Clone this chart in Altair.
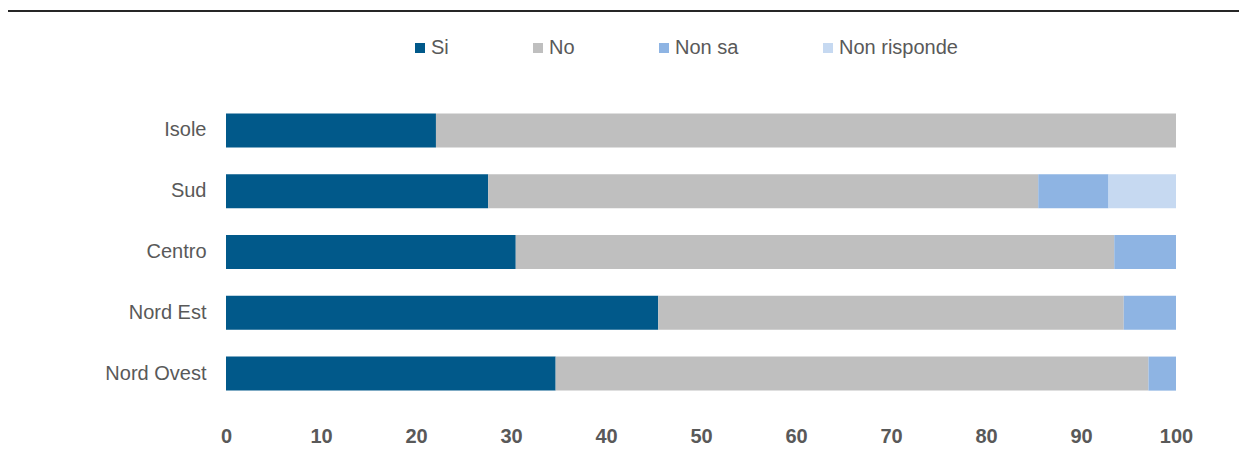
import altair as alt
import pandas as pd

regions = ["Isole", "Sud", "Centro", "Nord Est", "Nord Ovest"]
answers = ["Si", "No", "Non sa", "Non risponde"]
si = [22.1, 27.6, 30.5, 45.5, 34.7]
no = [77.9, 57.9, 63.0, 49.0, 62.4]
non_sa = [0.0, 7.4, 6.5, 5.5, 2.9]
non_risponde = [0.0, 7.1, 0.0, 0.0, 0.0]
colors = ["#01598A", "#BFBFBF", "#8EB4E3", "#C6D9F1"]
x_ticks = [0, 10, 20, 30, 40, 50, 60, 70, 80, 90, 100]

rows = []
for series_name, vals in zip(answers, [si, no, non_sa, non_risponde]):
    for r, v in zip(regions, vals):
        rows.append({"region": r, "answer": series_name, "value": v,
                     "order": answers.index(series_name)})
df = pd.DataFrame(rows)

FONT = "Liberation Sans, Arial, sans-serif"

bars = alt.Chart(df).mark_bar().encode(
    x=alt.X("value:Q", stack="zero",
            scale=alt.Scale(domain=[0, 100], nice=False),
            axis=alt.Axis(values=x_ticks, title=None, domain=False, ticks=False,
                          grid=False, labelFont=FONT, labelFontSize=20,
                          labelFontWeight="bold", labelColor="#595959",
                          labelPadding=22, labelFlush=False)),
    y=alt.Y("region:N", sort=regions,
            scale=alt.Scale(paddingInner=0.44, paddingOuter=0.22),
            axis=alt.Axis(title=None, domain=False, ticks=False, grid=False,
                          labelFont=FONT, labelFontSize=20, labelColor="#595959",
                          labelPadding=20)),
    color=alt.Color("answer:N", sort=answers,
                    scale=alt.Scale(domain=answers, range=colors),
                    legend=alt.Legend(title=None, orient="none", direction="horizontal",
                                      legendX=184, legendY=-62, padding=0,
                                      symbolType="square", symbolSize=100,
                                      symbolStrokeWidth=0, labelOffset=1,
                                      columnPadding=79, labelFont=FONT,
                                      labelFontSize=20, labelColor="#595959")),
    order=alt.Order("order:Q", sort="ascending"),
)

top_rule = alt.Chart(alt.Data(values=[{"k": 1}])).mark_rule(
    color="#262626", strokeWidth=2
).encode(x=alt.value(-226), x2=alt.value(1025), y=alt.value(-89))

chart = alt.layer(bars, top_rule).properties(
    width=950, height=304,
    background="white",
    autosize=alt.AutoSizeParams(type="none"),
    padding={"left": 218, "top": 92, "right": 63, "bottom": 60},
).configure_view(strokeWidth=0, stroke="transparent")

chart.save("out.html", embed_options={"renderer": "svg", "actions": False})
